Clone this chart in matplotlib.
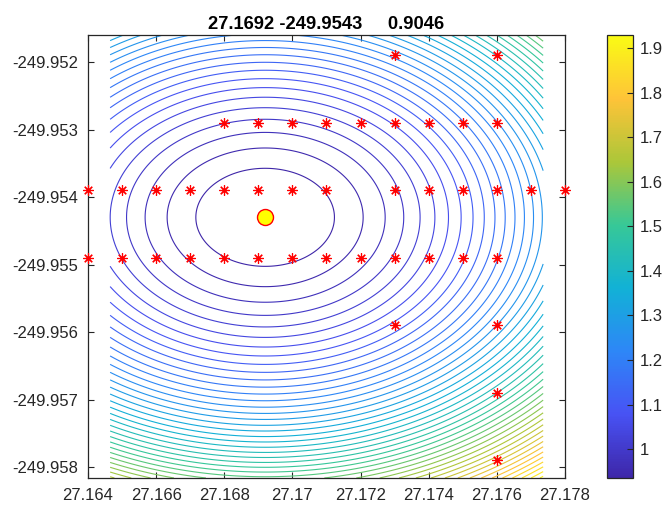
import numpy as np
import matplotlib
matplotlib.use('Agg')
import matplotlib.pyplot as plt
from matplotlib.colors import LinearSegmentedColormap, Normalize
from matplotlib.cm import ScalarMappable

# ---------------------------------------------------------
# Plot configuration
# ---------------------------------------------------------
plt.rcParams.update({
    'font.family': ['Liberation Sans', 'DejaVu Sans'],
    'font.size': 12,
    'axes.linewidth': 0.9,
})

# ---------------------------------------------------------
# Data
# ---------------------------------------------------------
best_x = 27.1692
best_y = -249.9543
best_f = 0.9046
title_text = '27.1692 -249.9543     0.9046'

# objective surface (quadratic bowl around the best point)
coef_x = 5487.0       # curvature along x
coef_y = 43070.0      # curvature along y
level_step = 0.0227
grid_x = (27.16465, 27.17736)
grid_y = (-249.95816, -249.9516)
clim = (0.935, 1.93)

# evaluated sample points (red asterisks), one list per row
star_rows_y = [-249.9519, -249.9529, -249.9539, -249.9549,
               -249.9559, -249.9569, -249.9579]
star_rows_x = [
    [27.173, 27.176],
    [27.168, 27.169, 27.170, 27.171, 27.172, 27.173, 27.174, 27.175, 27.176],
    [27.164, 27.165, 27.166, 27.167, 27.168, 27.169, 27.170, 27.171,
     27.173, 27.174, 27.175, 27.176, 27.177, 27.178],
    [27.164, 27.165, 27.166, 27.167, 27.168, 27.169, 27.170, 27.171,
     27.172, 27.173, 27.174, 27.175, 27.176],
    [27.173, 27.176],
    [27.176],
    [27.176],
]

xticks = [27.164, 27.166, 27.168, 27.170, 27.172, 27.174, 27.176, 27.178]
xtick_labels = ['27.164', '27.166', '27.168', '27.17', '27.172', '27.174', '27.176', '27.178']
yticks = [-249.952, -249.953, -249.954, -249.955, -249.956, -249.957, -249.958]
ytick_labels = ['-249.952', '-249.953', '-249.954', '-249.955', '-249.956', '-249.957', '-249.958']
cbar_ticks = [1.0, 1.1, 1.2, 1.3, 1.4, 1.5, 1.6, 1.7, 1.8, 1.9]
cbar_labels = ['1', '1.1', '1.2', '1.3', '1.4', '1.5', '1.6', '1.7', '1.8', '1.9']

# parula-like colormap
parula_pts = [
    (0.2422, 0.1504, 0.6603),
    (0.2810, 0.3228, 0.9579),
    (0.1786, 0.5289, 0.9682),
    (0.0689, 0.6948, 0.8394),
    (0.2161, 0.7843, 0.5923),
    (0.6720, 0.7793, 0.2227),
    (0.9970, 0.7659, 0.2199),
    (0.9769, 0.9839, 0.0805),
]
parula = LinearSegmentedColormap.from_list('parula', parula_pts, N=256)

# ---------------------------------------------------------
# Surface
# ---------------------------------------------------------
gx = np.linspace(grid_x[0], grid_x[1], 400)
gy = np.linspace(grid_y[0], grid_y[1], 400)
X, Y = np.meshgrid(gx, gy)
Z = best_f + coef_x * (X - best_x) ** 2 + coef_y * (Y - best_y) ** 2
levels = best_f + level_step * np.arange(1, int((Z.max() - best_f) / level_step) + 1)

# ---------------------------------------------------------
# Plotting
# ---------------------------------------------------------
fig = plt.figure(figsize=(6.62, 5.08), dpi=100)
ax = fig.add_axes([0.1329, 0.0591, 0.7205, 0.8720])
cax = fig.add_axes([0.9169, 0.0591, 0.0393, 0.8720])

norm = Normalize(vmin=clim[0], vmax=clim[1])
ax.contour(X, Y, Z, levels=levels, cmap=parula, norm=norm, linewidths=0.8)

for ry, rx in zip(star_rows_y, star_rows_x):
    ax.plot(rx, [ry] * len(rx), linestyle='none', marker=(8, 2, 0),
            markersize=7.5, color='red', markeredgewidth=0.85, clip_on=False, zorder=3)

ax.plot(best_x, best_y, 'o', markersize=11.5, markerfacecolor='yellow',
        markeredgecolor='red', markeredgewidth=1.0, zorder=4)

ax.set_xlim(27.164, 27.178)
ax.set_ylim(grid_y[0], grid_y[1])
ax.set_xticks(xticks)
ax.set_xticklabels(xtick_labels)
ax.set_yticks(yticks)
ax.set_yticklabels(ytick_labels)

tc = (0.15, 0.15, 0.15)
ax.tick_params(direction='in', length=4.5, width=0.8, top=True, right=True,
               colors=tc, labelsize=12, pad=7)
for s in ax.spines.values():
    s.set_color(tc)

ax.set_title(title_text, fontsize=13.2, fontweight='bold', pad=4, color='black')

cb = fig.colorbar(ScalarMappable(norm=norm, cmap=parula), cax=cax)
cb.set_ticks(cbar_ticks)
cb.set_ticklabels(cbar_labels)
cb.ax.tick_params(direction='in', length=4.5, width=0.8, colors=tc, labelsize=12, pad=5)
cb.outline.set_edgecolor(tc)
cb.outline.set_linewidth(0.9)

fig.savefig('out.png', dpi=100)
